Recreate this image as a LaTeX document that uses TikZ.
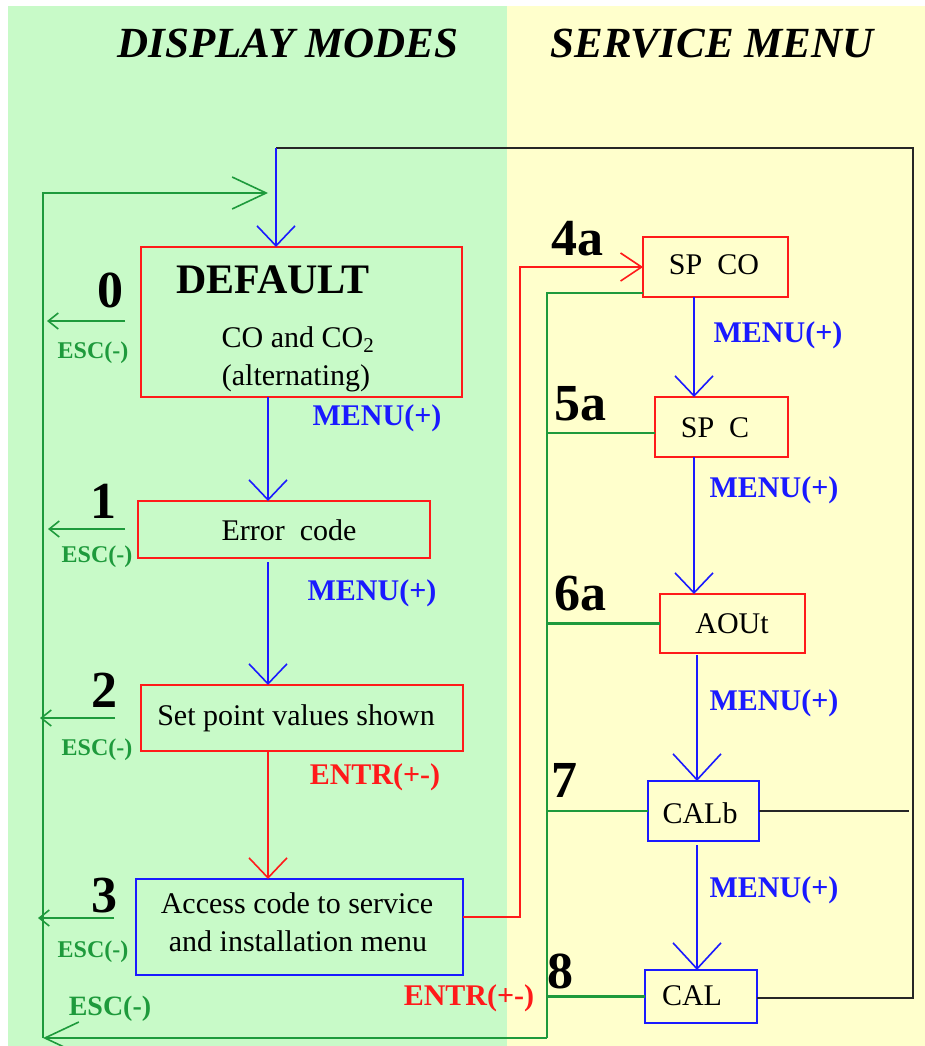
\documentclass[tikz,border=0pt]{standalone}
\usepackage{fontspec}
\setmainfont{Liberation Serif}
\usetikzlibrary{arrows.meta,calc}
\definecolor{bggreen}{HTML}{C8FAC8}
\definecolor{bgyellow}{HTML}{FFFFCC}
\definecolor{lgreen}{HTML}{1E9A3C}
\definecolor{lred}{HTML}{FF1A1A}
\definecolor{lblue}{HTML}{1A1AFF}
\begin{document}
\begin{tikzpicture}[x=1pt,y=-1pt,
  every node/.style={inner sep=0pt,outer sep=0pt},
  stbox/.style={draw=#1,line width=2.2pt,fill=none},
  boxtxt/.style={anchor=base,font=\fontsize{30}{34}\selectfont},
  numlbl/.style={anchor=base,font=\fontsize{52}{52}\selectfont\bfseries},
  menulbl/.style={anchor=base,text=lblue,font=\fontsize{30}{34}\selectfont\bfseries},
  entrlbl/.style={anchor=base,text=lred,font=\fontsize{30}{34}\selectfont\bfseries},
  esclbl/.style={anchor=base,text=lgreen,font=\fontsize{24}{28}\selectfont\bfseries},
  titlelbl/.style={anchor=base,font=\fontsize{43}{46}\selectfont\bfseries\itshape},
  gline/.style={draw=lgreen,line width=2.2pt},
  rline/.style={draw=lred,line width=2.2pt},
  bline/.style={draw=lblue,line width=2.2pt},
  kline/.style={draw=black!85,line width=2.6pt},
  barbA/.style={-{Straight Barb[length=20pt,width=38pt,line width=1.6pt]}},
  barbB/.style={-{Straight Barb[length=26pt,width=48pt,line width=1.6pt]}},
  barbS/.style={-{Straight Barb[length=10pt,width=16pt,line width=1.6pt]}},
  barbL/.style={-{Straight Barb[length=34pt,width=32pt,line width=1.6pt]}}
]
\useasboundingbox (0,0) rectangle (925,1046);
\fill[white] (0,0) rectangle (925,1046);
\fill[bggreen] (8,6) rectangle (507,1046);
\fill[bgyellow] (507,6) rectangle (925,1046);

% titles
\node[titlelbl] (t1) at (288,58) {DISPLAY MODES};
\node[titlelbl] (t2) at (712,58) {SERVICE MENU};

% boxes
\node[stbox=lred,minimum width=321pt,minimum height=150pt] (default) at (301.5,322) {};
\node[stbox=lred,minimum width=292pt,minimum height=57pt] (err) at (284,529.5) {};
\node[stbox=lred,minimum width=322pt,minimum height=66pt] (setp) at (302,718) {};
\node[stbox=lblue,minimum width=327pt,minimum height=96pt] (access) at (299.5,927) {};
\node[stbox=lred,minimum width=145pt,minimum height=60pt] (spco) at (715.5,267) {};
\node[stbox=lred,minimum width=133pt,minimum height=60pt] (spc) at (721.5,427) {};
\node[stbox=lred,minimum width=145pt,minimum height=59pt] (aout) at (732.5,623.5) {};
\node[stbox=lblue,minimum width=111pt,minimum height=60pt] (calb) at (703.5,811) {};
\node[stbox=lblue,minimum width=112pt,minimum height=53pt] (cal) at (701,996.5) {};

% box texts
\node[anchor=base,font=\fontsize{42}{44}\selectfont\bfseries] (deft) at (273,293) {DEFAULT};
\node[boxtxt] (cot) at (298,347) {CO and CO\textsubscript{2}};
\node[boxtxt] (altt) at (296,385) {(alternating)};
\node[boxtxt] (errt) at (289,540) {Error\ \ code};
\node[boxtxt] (setpt) at (296,725) {Set point values shown};
\node[boxtxt] (acc1) at (297,913) {Access code to service};
\node[boxtxt] (acc2) at (298,951) {and installation menu};
\node[boxtxt] (spcot) at (714,274) {SP\ \ CO};
\node[boxtxt] (spct) at (715,437) {SP\ \ C};
\node[boxtxt] (aoutt) at (732,633) {AOUt};
\node[boxtxt] (calbt) at (700,823) {CALb};
\node[boxtxt] (calt) at (692,1005) {CAL};

% state numbers
\node[numlbl] (n0) at (110,307) {0};
\node[numlbl] (n1) at (103,518) {1};
\node[numlbl] (n2) at (104,707) {2};
\node[numlbl] (n3) at (104,912) {3};
\node[numlbl] (n4) at (577,255) {4a};
\node[numlbl] (n5) at (580,420) {5a};
\node[numlbl] (n6) at (580,610) {6a};
\node[numlbl] (n7) at (564,797) {7};
\node[numlbl] (n8) at (560,988) {8};

% key labels
\node[menulbl] (m1) at (377,425) {MENU(+)};
\node[menulbl] (m2) at (372,600) {MENU(+)};
\node[menulbl] (m3) at (778,342) {MENU(+)};
\node[menulbl] (m4) at (774,497) {MENU(+)};
\node[menulbl] (m5) at (774,710) {MENU(+)};
\node[menulbl] (m6) at (774,897) {MENU(+)};
\node[entrlbl] (e1) at (375,784) {ENTR(+-)};
\node[entrlbl] (e2) at (469,1005) {ENTR(+-)};
\node[esclbl] (s0) at (93,358) {ESC(-)};
\node[esclbl] (s1) at (97,562) {ESC(-)};
\node[esclbl] (s2) at (97,755) {ESC(-)};
\node[esclbl] (s3) at (93,957) {ESC(-)};
\node[esclbl,font=\fontsize{28}{30}\selectfont\bfseries] (s4) at (110,1015) {ESC(-)};

% helper coordinates
\coordinate (colA) at (268,0);
\coordinate (colB) at (276,148);
\coordinate (colS) at (694,0);
\coordinate (colT) at (697,0);
\coordinate (kcorner) at (913,148);
\coordinate (kbot) at (913,998);
\coordinate (kcalb) at (909,0);
\coordinate (lbus) at (43,1038);
\coordinate (lbustop) at (43,193);
\coordinate (topin) at (268,193);
\coordinate (rbus) at (547,1038);
\coordinate (redcol) at (520,0);
\coordinate (esc0) at (47,321);
\coordinate (esc1) at (48,529);
\coordinate (esc2) at (40,718);
\coordinate (esc3) at (38,918);

% black return loop
\draw[kline] (colB) -- (kcorner) -- (kbot) -- (kbot -| cal.east);
\draw[kline] (calb.east) -- (calb.east -| kcalb);

% blue MENU arrows
\draw[bline,barbA] (colB) -- (colB |- default.north);
\draw[bline,barbA] (colA |- default.south) -- (colA |- err.north);
\draw[bline,barbA] ($(colA |- err.south)+(0,4)$) -- (colA |- setp.north);
\draw[bline,barbA] (spco.south -| colS) -- (spc.north -| colS);
\draw[bline,barbA] (spc.south -| colS) -- (aout.north -| colS);
\draw[bline,barbB] ($(aout.south -| colT)+(0,2)$) -- (calb.north -| colT);
\draw[bline,barbB] ($(calb.south -| colT)+(0,4)$) -- (cal.north -| colT);

% red ENTR arrows
\draw[rline,barbA] (colA |- setp.south) -- (colA |- access.north);
\draw[rline,-{Straight Barb[length=21pt,width=28pt,line width=1.6pt]}]
  ($(access.east)+(0,-10)$) -- ($(access.east -| redcol)+(0,-10)$) -- (redcol |- spco.west) -- (spco.west);

% green ESC lines (service side)
\draw[gline] ($(spco.south west)+(0,-4)$) -| (rbus);
\draw[gline] ($(spc.west)+(0,6)$) -- ($(spc.west -| rbus)+(0,6)$);
\draw[gline] (aout.west) -- (aout.west -| rbus);
\draw[gline] (calb.west) -- (calb.west -| rbus);
\draw[gline] (cal.west) -- (cal.west -| rbus);
\draw[gline,barbL] (rbus) -- (lbus);
\draw[gline,barbL] (lbus) -- (lbustop) -- (topin);

% green ESC lines (display side)
\draw[gline,barbS] ($(esc0 -| default.west)+(-16,0)$) -- (esc0);
\draw[gline,barbS] ($(esc1 -| err.west)+(-13,0)$) -- (esc1);
\draw[gline,barbS] ($(esc2 -| setp.west)+(-26,0)$) -- (esc2);
\draw[gline,barbS] ($(esc3 -| access.west)+(-22,0)$) -- (esc3);
\end{tikzpicture}
\end{document}
